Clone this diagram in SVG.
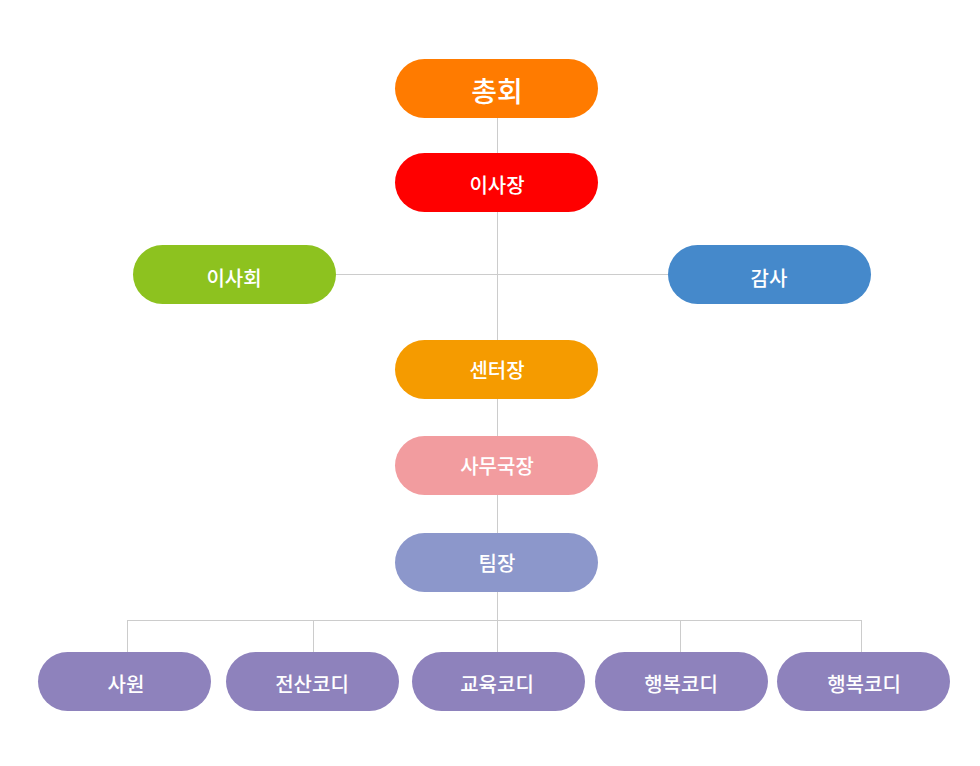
<svg xmlns="http://www.w3.org/2000/svg" width="980" height="766" viewBox="0 0 980 766">
<style>
.n rect{rx:29.5px;ry:29.5px}
.n text{font-family:"Noto Sans CJK KR","Noto Sans",sans-serif;font-weight:500;font-size:20px;fill:#fff;text-anchor:middle;dominant-baseline:central}
.c line{stroke:#cccccc;stroke-width:1}
</style>
<rect width="980" height="766" fill="#fff"/>
<g id="connectors" class="c">
<line x1="497.5" y1="118" x2="497.5" y2="652"/>
<line x1="336" y1="274.5" x2="668" y2="274.5"/>
<line x1="127.5" y1="620.5" x2="861.5" y2="620.5"/>
<line x1="127.5" y1="620" x2="127.5" y2="652"/>
<line x1="313.5" y1="620" x2="313.5" y2="652"/>
<line x1="680.5" y1="620" x2="680.5" y2="652"/>
<line x1="861.5" y1="620" x2="861.5" y2="652"/>
</g>
<g id="n1" class="n"><rect x="395" y="59" width="203" height="59" fill="#FF7B00"/><text x="497" y="90" style="font-size:28px">총회</text></g>
<g id="n2" class="n"><rect x="395" y="153" width="203" height="59" fill="#FF0000"/><text x="497" y="184">이사장</text></g>
<g id="n3" class="n"><rect x="133" y="245" width="203" height="59" fill="#8DC21F"/><text x="234" y="277">이사회</text></g>
<g id="n4" class="n"><rect x="668" y="245" width="203" height="59" fill="#4589CB"/><text x="769" y="277">감사</text></g>
<g id="n5" class="n"><rect x="395" y="340" width="203" height="59" fill="#F59B00"/><text x="497" y="369">센터장</text></g>
<g id="n6" class="n"><rect x="395" y="436" width="203" height="59" fill="#F29C9F"/><text x="497" y="465">사무국장</text></g>
<g id="n7" class="n"><rect x="395" y="533" width="203" height="59" fill="#8C97CB"/><text x="497" y="562">팀장</text></g>
<g id="n8" class="n"><rect x="38" y="652" width="173" height="59" fill="#8E82BC"/><text x="126" y="683">사원</text></g>
<g id="n9" class="n"><rect x="226" y="652" width="173" height="59" fill="#8E82BC"/><text x="312" y="683">전산코디</text></g>
<g id="n10" class="n"><rect x="412" y="652" width="173" height="59" fill="#8E82BC"/><text x="497" y="683">교육코디</text></g>
<g id="n11" class="n"><rect x="595" y="652" width="173" height="59" fill="#8E82BC"/><text x="681" y="683">행복코디</text></g>
<g id="n12" class="n"><rect x="777" y="652" width="173" height="59" fill="#8E82BC"/><text x="864" y="683">행복코디</text></g>
</svg>
